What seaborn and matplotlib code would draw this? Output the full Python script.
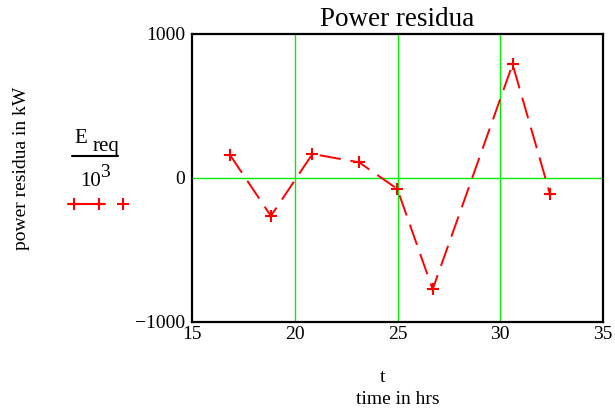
import matplotlib
matplotlib.use("Agg")
import matplotlib.pyplot as plt
import seaborn as sns
import pandas as pd
from matplotlib.lines import Line2D

t_hrs = [16.85, 18.84, 20.86, 23.13, 24.99, 26.71, 30.6, 32.42]
e_req_k = [160, -264, 167, 109, -76, -773, 790, -111]
x_ticks = [15, 20, 25, 30, 35]
y_ticks = [-1000, 0, 1000]

sns.set_style("white")
plt.rcParams['font.family'] = ['Liberation Serif', 'DejaVu Serif']
plt.rcParams['text.color'] = 'black'
plt.rcParams['xtick.color'] = 'black'
plt.rcParams['ytick.color'] = 'black'

df = pd.DataFrame({"t": t_hrs, "E": e_req_k})

fig = plt.figure(figsize=(6.15, 4.12), dpi=100)
ax = fig.add_axes([192/615, 1-322/412, 411/615, 288/412])

ax.axvline(20, color="#00ee00", lw=1, zorder=0)
ax.axvline(25, color="#00ee00", lw=1, zorder=0)
ax.axvline(30, color="#00ee00", lw=1, zorder=0)
ax.axhline(0, color="#00ee00", lw=1, zorder=0)

sns.lineplot(data=df, x="t", y="E", sort=False, ax=ax, color="red",
             marker="+", markersize=9, markeredgewidth=1.5,
             markeredgecolor="red", markerfacecolor="red",
             lw=1.4, linestyle=(0, (11, 5)))

ax.set_xlim(15, 35)
ax.set_ylim(-1000, 1000)
ax.set_xticks(x_ticks)
ax.set_xticklabels([str(v) for v in x_ticks])
ax.set_yticks(y_ticks)
ax.set_yticklabels(["\u2212" + "1000", "0", "1000"])
ax.tick_params(length=0, labelsize=14, pad=5, labelcolor="black")
ax.tick_params(axis="x", pad=3)
ax.set_xlabel("")
ax.set_ylabel("")
for s in ax.spines.values():
    s.set_color("black")
    s.set_linewidth(1.6)

fig.text(397/615, 1-20/412, "Power residua", ha="center", va="center", fontsize=19.5, color="black")
fig.text(383/615, 1-377/412, "t", ha="center", va="center", fontsize=14, color="black")
fig.text(398/615, 1-400/412, "time in hrs", ha="center", va="center", fontsize=14, color="black")
fig.text(22/615, 1-168/412, "power residua in kW", rotation=90, ha="center", va="center",
         fontsize=14, color="black")

# label block on the left
fig.text(81/615, 1-138/412, "E", ha="center", va="center", fontsize=15, color="black")
fig.text(106/615, 1-146/412, "req", ha="center", va="center", fontsize=15, color="black")
fig.add_artist(Line2D([72/615, 118/615], [1-156/412, 1-156/412], color="black", lw=1.5))
fig.text(91/615, 1-182/412, "10", ha="center", va="center", fontsize=15, color="black")
fig.text(105/615, 1-172/412, "3", ha="center", va="center", fontsize=14, color="black")
fig.add_artist(Line2D([68/615, 105/615], [1-204/412, 1-204/412], color="red", lw=1.5))
fig.add_artist(Line2D([74/615, 99/615, 123/615], [1-204/412]*3, color="red", lw=0,
                      marker="+", markersize=9, markeredgewidth=1.5))

fig.savefig("out.png", dpi=100)
